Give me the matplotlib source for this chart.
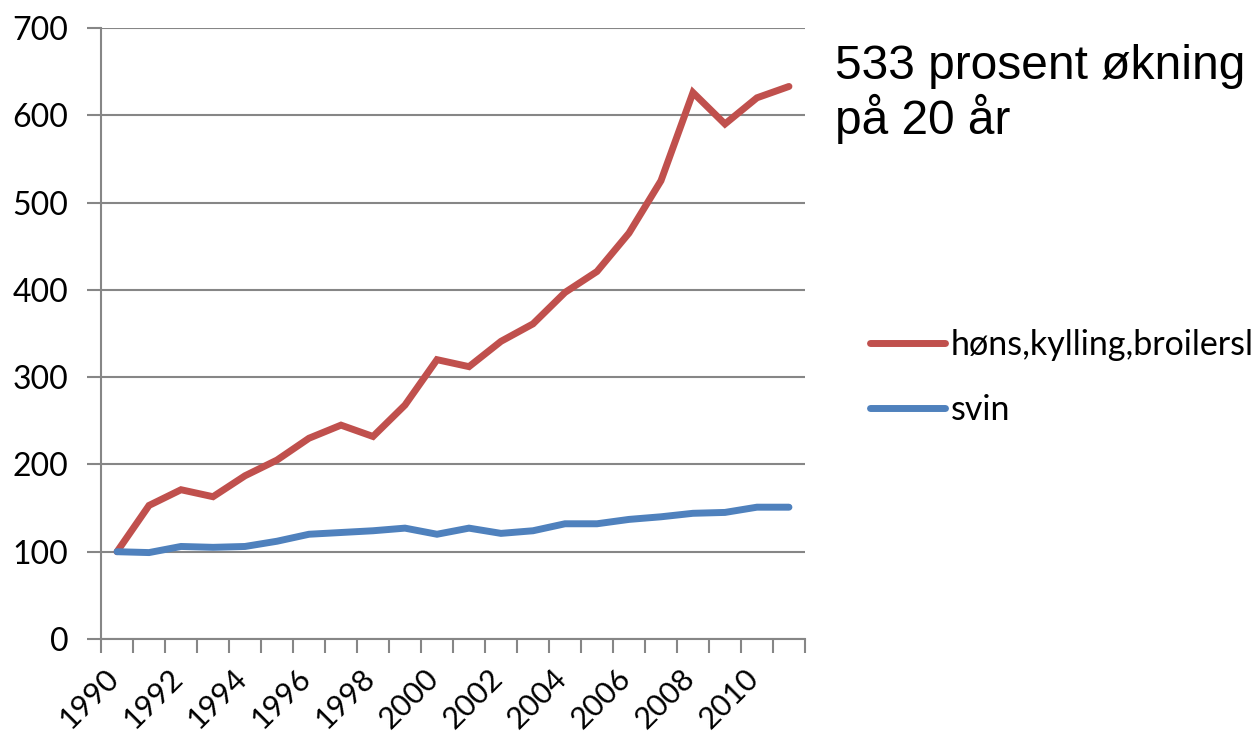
import matplotlib.pyplot as plt
import matplotlib.transforms as mtransforms
import numpy as np

# Produksjon, indeks 1990 = 100

years = list(range(1990, 2012))
hons = [100, 153, 171, 163, 187, 205, 230, 245, 232, 268, 320,
        312, 341, 361, 397, 421, 465, 525, 626, 590, 620, 633]
svin = [100, 99, 106, 105, 106, 112, 120, 122, 124, 127, 120,
        127, 121, 124, 132, 132, 137, 140, 144, 145, 151, 151]
labels = ['høns,kylling,broilersl', 'svin']
note = '533 prosent økning\npå 20 år'

plt.rcParams['font.family'] = ['Lato', 'DejaVu Sans']
grey = '#868686'

fig = plt.figure(figsize=(12.55, 7.36), dpi=100)
ax = fig.add_axes([0.0805, 0.1318, 0.5609, 0.8302])

x = np.arange(len(years)) + 0.5
ax.plot(x, hons, color='#C0504D', lw=5, solid_capstyle='round',
        solid_joinstyle='miter', label=labels[0])
ax.plot(x, svin, color='#4F81BD', lw=5, solid_capstyle='round',
        solid_joinstyle='miter', label=labels[1])

ax.set_xlim(0, len(years))
ax.set_ylim(0, 700)
ax.set_yticks(range(0, 701, 100))
ax.yaxis.grid(True, color=grey, lw=1.5)
ax.set_axisbelow(True)

ax.set_xticks(x[::2])
ax.set_xticklabels([str(y) for y in years[::2]], rotation=45,
                   ha='right', va='center', rotation_mode='anchor')
ax.set_xticks(np.arange(len(years) + 1), minor=True)
ax.tick_params(axis='x', which='major', length=0, pad=25, labelsize=22)
ax.tick_params(axis='x', which='minor', length=10, width=1.5, color=grey)
ax.tick_params(axis='y', length=10, width=1.5, color=grey, pad=13.5, labelsize=23)

# flytt årstallene litt mot venstre
shift = mtransforms.ScaledTranslation(-3 / 100, 0, fig.dpi_scale_trans)
for lab in ax.get_xticklabels():
    lab.set_transform(lab.get_transform() + shift)

for s in ['top', 'right']:
    ax.spines[s].set_visible(False)
for s in ['left', 'bottom']:
    ax.spines[s].set_color(grey)
    ax.spines[s].set_linewidth(1.5)

fig.legend(loc='center left', bbox_to_anchor=(0.693, 0.487), frameon=False,
           fontsize=24.5, handlelength=2.22, handletextpad=0.15, labelspacing=0.98,
           borderaxespad=0, borderpad=0)

fig.text(0.665, 1 - 134 / 736, note, fontsize=34.5, family='Liberation Sans',
         va='baseline', ha='left', linespacing=1.12)

fig.savefig('out.png', dpi=100)
